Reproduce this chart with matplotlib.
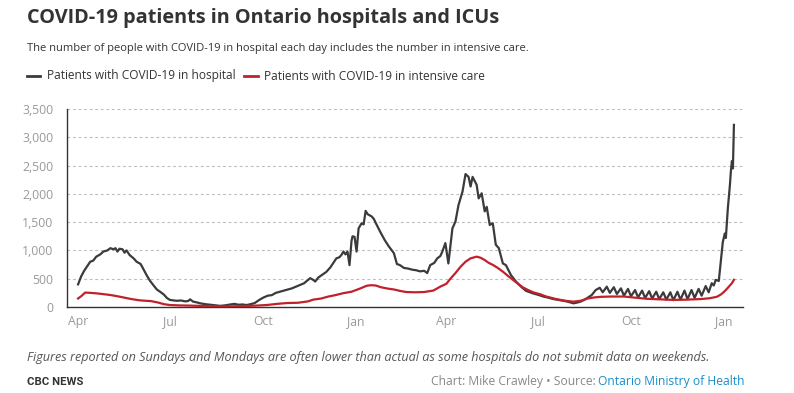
import matplotlib
matplotlib.use("Agg")
import matplotlib.pyplot as plt
import numpy as np
import pandas as pd

# ---------------- data ----------------
hosp_dates = [
    "2020-04-01","2020-04-04","2020-04-07","2020-04-10","2020-04-13","2020-04-16","2020-04-19","2020-04-23",
    "2020-04-26","2020-04-30","2020-05-03","2020-05-06","2020-05-08","2020-05-10","2020-05-12","2020-05-15",
    "2020-05-17","2020-05-19","2020-05-22","2020-05-26","2020-05-29","2020-06-02","2020-06-05","2020-06-08",
    "2020-06-11","2020-06-14","2020-06-18","2020-06-22","2020-06-25","2020-06-28","2020-07-01","2020-07-05",
    "2020-07-08","2020-07-12","2020-07-16","2020-07-19","2020-07-21","2020-07-24","2020-07-28","2020-07-31",
    "2020-08-05","2020-08-10","2020-08-15","2020-08-20","2020-08-25","2020-08-30","2020-09-03","2020-09-07",
    "2020-09-11","2020-09-15","2020-09-19","2020-09-23","2020-09-28","2020-10-02","2020-10-06","2020-10-10",
    "2020-10-14","2020-10-18","2020-10-22","2020-10-26","2020-10-30","2020-11-03","2020-11-07","2020-11-11",
    "2020-11-15","2020-11-17","2020-11-20","2020-11-22","2020-11-25","2020-11-29","2020-12-03","2020-12-07",
    "2020-12-10","2020-12-13","2020-12-16","2020-12-18","2020-12-20","2020-12-22","2020-12-24","2020-12-26",
    "2020-12-28","2020-12-29","2020-12-31","2021-01-02","2021-01-04","2021-01-07","2021-01-09","2021-01-11",
    "2021-01-13","2021-01-15","2021-01-17","2021-01-19","2021-01-22","2021-01-26","2021-01-30","2021-02-03",
    "2021-02-06","2021-02-08","2021-02-11","2021-02-14","2021-02-18","2021-02-22","2021-02-26","2021-03-02",
    "2021-03-06","2021-03-10","2021-03-13","2021-03-16","2021-03-20","2021-03-23","2021-03-26","2021-03-28",
    "2021-03-31","2021-04-03","2021-04-07","2021-04-10","2021-04-13","2021-04-17","2021-04-20","2021-04-23",
    "2021-04-25","2021-04-27","2021-05-01","2021-05-03","2021-05-06","2021-05-09","2021-05-11","2021-05-14",
    "2021-05-17","2021-05-20","2021-05-23","2021-05-27","2021-05-30","2021-06-04","2021-06-09","2021-06-14",
    "2021-06-19","2021-06-26","2021-07-01","2021-07-06","2021-07-11","2021-07-16","2021-07-21","2021-07-26",
    "2021-07-30","2021-08-05","2021-08-09","2021-08-12","2021-08-16","2021-08-19","2021-08-23","2021-08-27",
    "2021-08-31","2021-09-03","2021-09-07","2021-09-10","2021-09-14","2021-09-17","2021-09-21","2021-09-24",
    "2021-09-28","2021-10-01","2021-10-05","2021-10-08","2021-10-12","2021-10-15","2021-10-19","2021-10-22",
    "2021-10-26","2021-10-29","2021-11-02","2021-11-05","2021-11-09","2021-11-12","2021-11-16","2021-11-19",
    "2021-11-23","2021-11-26","2021-11-30","2021-12-03","2021-12-07","2021-12-10","2021-12-14","2021-12-17",
    "2021-12-20","2021-12-22","2021-12-24","2021-12-27","2021-12-29","2021-12-31","2022-01-02","2022-01-03",
    "2022-01-05","2022-01-07","2022-01-08","2022-01-09","2022-01-10","2022-01-11",
]
hosp_values = [
    400, 540, 640, 720, 800, 820, 890, 930,
    980, 1000, 1040, 1020, 1040, 980, 1030, 1020,
    960, 1000, 920, 860, 800, 760, 660, 560,
    470, 400, 310, 260, 220, 160, 125, 115,
    110, 115, 100, 105, 135, 95, 80, 65,
    50, 40, 30, 20, 30, 45, 55, 40,
    45, 35, 50, 70, 130, 170, 200, 210,
    250, 270, 290, 310, 330, 360, 390, 420,
    480, 510, 480, 450, 520, 570, 620, 700,
    780, 860, 880, 920, 980, 930, 980, 740,
    1170, 1250, 1240, 980, 1390, 1480, 1460, 1700,
    1640, 1620, 1600, 1560, 1450, 1310, 1180, 1070,
    1000, 950, 760, 740, 690, 680, 660, 650,
    630, 640, 600, 740, 780, 860, 900, 980,
    1130, 770, 1390, 1510, 1800, 2040, 2350, 2300,
    2130, 2300, 2160, 1920, 2010, 1690, 1770, 1450,
    1480, 1100, 1040, 770, 740, 565, 450, 360,
    285, 240, 215, 185, 165, 140, 125, 110,
    95, 65, 80, 95, 130, 165, 210, 300,
    340, 260, 360, 250, 350, 230, 330, 200,
    320, 190, 300, 170, 290, 160, 280, 150,
    270, 140, 260, 130, 260, 120, 270, 130,
    290, 140, 300, 160, 320, 200, 370, 260,
    420, 380, 480, 460, 800, 1150, 1300, 1220,
    1750, 2150, 2400, 2580, 2450, 3220,
]

icu_dates = [
    "2020-04-01","2020-04-04","2020-04-08","2020-04-13","2020-04-20","2020-04-27","2020-05-03","2020-05-10",
    "2020-05-17","2020-05-24","2020-05-31","2020-06-05","2020-06-12","2020-06-19","2020-06-25","2020-07-01",
    "2020-07-10","2020-07-20","2020-07-30","2020-08-10","2020-08-25","2020-09-10","2020-09-25","2020-10-05",
    "2020-10-15","2020-10-25","2020-11-05","2020-11-15","2020-11-20","2020-11-28","2020-12-05","2020-12-12",
    "2020-12-20","2020-12-28","2021-01-06","2021-01-12","2021-01-16","2021-01-21","2021-01-26","2021-02-02",
    "2021-02-08","2021-02-14","2021-02-20","2021-03-01","2021-03-10","2021-03-19","2021-03-26","2021-04-01",
    "2021-04-05","2021-04-10","2021-04-15","2021-04-20","2021-04-25","2021-05-01","2021-05-05","2021-05-09",
    "2021-05-13","2021-05-17","2021-05-22","2021-05-27","2021-06-01","2021-06-06","2021-06-11","2021-06-16",
    "2021-06-21","2021-06-26","2021-07-03","2021-07-09","2021-07-19","2021-07-28","2021-08-05","2021-08-12",
    "2021-08-19","2021-08-26","2021-09-01","2021-09-12","2021-09-24","2021-10-05","2021-10-17","2021-10-30",
    "2021-11-12","2021-11-25","2021-12-09","2021-12-18","2021-12-25","2021-12-29","2022-01-01","2022-01-04",
    "2022-01-06","2022-01-09","2022-01-11",
]
icu_values = [
    150, 190, 255, 250, 240, 225, 212, 190,
    165, 140, 120, 112, 105, 80, 50, 35,
    28, 25, 20, 15, 10, 15, 25, 35,
    55, 70, 75, 100, 130, 150, 185, 210,
    245, 270, 330, 375, 385, 380, 350, 325,
    310, 285, 265, 260, 265, 290, 360, 410,
    500, 600, 710, 800, 860, 890, 870, 830,
    780, 745, 690, 625, 550, 480, 410, 345,
    300, 260, 225, 185, 140, 110, 95, 110,
    150, 170, 180, 185, 185, 165, 145, 135,
    125, 130, 140, 155, 180, 220, 265, 320,
    360, 420, 480,
]

y_ticks = [0, 500, 1000, 1500, 2000, 2500, 3000, 3500]
x_tick_dates = ["2020-04-01","2020-07-01","2020-10-01","2021-01-01",
                "2021-04-01","2021-07-01","2021-10-01","2022-01-01"]
x_tick_labels = ["Apr","Jul","Oct","Jan","Apr","Jul","Oct","Jan"]

title = "COVID-19 patients in Ontario hospitals and ICUs"
subtitle = "The number of people with COVID-19 in hospital each day includes the number in intensive care."
series_names = ["Patients with COVID-19 in hospital", "Patients with COVID-19 in intensive care"]
note = "Figures reported on Sundays and Mondays are often lower than actual as some hospitals do not submit data on weekends."

# ---------------- figure ----------------
W, H = 794, 393
fig = plt.figure(figsize=(W/100, H/100), dpi=100)
FONT = "Open Sans"
C_HOSP = "#3b3b3b"
C_ICU = "#c0212b"

def px(x, y):
    return x / W, 1 - y / H

ax = fig.add_axes([67/W, 1-307/H, (743-67)/W, (307-109)/H])
hd = pd.to_datetime(hosp_dates)
idt = pd.to_datetime(icu_dates)
ax.plot(hd, hosp_values, color=C_HOSP, lw=1.6, solid_joinstyle="round", zorder=3)
ax.plot(idt, icu_values, color=C_ICU, lw=1.6, solid_joinstyle="round", zorder=4)

ax.set_ylim(0, 3500)
ax.set_xlim(pd.Timestamp("2020-03-21"), pd.Timestamp("2022-01-20"))
ax.set_yticks(y_ticks)
ax.set_yticklabels([f"{v:,}" for v in y_ticks])
ax.set_xticks(pd.to_datetime(x_tick_dates))
ax.set_xticklabels(x_tick_labels)
ax.tick_params(axis="both", length=0, labelsize=8.8, labelcolor="#999999")
ax.tick_params(axis="y", pad=10)
ax.tick_params(axis="x", pad=6)
for lab in ax.get_xticklabels() + ax.get_yticklabels():
    lab.set_fontfamily(FONT)
ax.grid(axis="y", color="#bdbdbd", linestyle=(0, (2.5, 2.5)), linewidth=0.8)
ax.set_axisbelow(True)
for s in ["top", "right"]:
    ax.spines[s].set_visible(False)
for s in ["left", "bottom"]:
    ax.spines[s].set_color("#333333")
    ax.spines[s].set_linewidth(1.0)

# ---------------- texts ----------------
fig.text(*px(27, 18), title, fontsize=14.3, fontweight="bold", color="#333333",
         family=FONT, va="center", ha="left")
fig.text(*px(27, 48), subtitle, fontsize=8.05, color="#333333", family=FONT, va="center")

# legend
lx = [(27, 40, C_HOSP, 47), (244, 258, C_ICU, 264)]
for (x0, x1, c, tx), name in zip(lx, series_names):
    fig.add_artist(plt.Line2D([x0/W, x1/W], [1-76/H, 1-76/H], color=c, lw=2,
                              transform=fig.transFigure))
    fig.text(*px(tx, 76), name, fontsize=8.55, color="#333333", family=FONT, va="center")

fig.text(*px(27, 358), note, fontsize=9.05, style="italic", color="#555555", family=FONT, va="center")
fig.text(*px(27, 382), "CBC NEWS", fontsize=8.2, color="#333333", family="Roboto",
         fontweight="bold", va="center")
src = fig.text(*px(745, 382), "Ontario Ministry of Health", fontsize=8.7, color="#1a8fc9",
               family=FONT, va="center", ha="right")
fig.canvas.draw()
bb = src.get_window_extent()
fig.text(bb.x0 / W, 1 - 382 / H, "Chart: Mike Crawley \u2022 Source: ", fontsize=8.7, color="#888888",
         family=FONT, va="center", ha="right")

fig.savefig("out.png", dpi=100)
